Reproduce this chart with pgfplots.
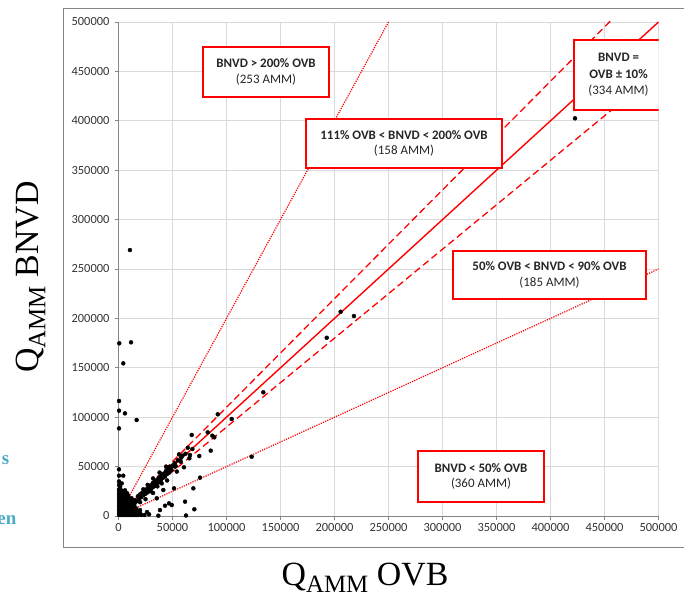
\documentclass[border=0pt]{standalone}
\usepackage{fontspec}
\setmainfont{Carlito}
\newfontfamily\tnr{Liberation Serif}
\usepackage{pgfplots}
\pgfplotsset{compat=1.18}
\definecolor{gridgray}{HTML}{D9D9D9}
\definecolor{axgray}{HTML}{868686}
\definecolor{exred}{HTML}{FF0000}
\definecolor{slideblue}{HTML}{4BACC6}

\pgfplotstableread{
x y
422700 402500
205700 206700
218000 202400
192800 180400
134100 125200
123300 60000
10600 269200
700 174800
11600 175800
4400 154500
500 116400
500 106600
6000 103900
16800 97200
500 88700
91900 102900
104800 98200
82600 84700
67800 82000
86900 81300
88700 79600
64100 69100
68400 67800
85400 66100
56000 62400
66200 61700
74800 60700
65600 58400
57600 55000
47700 49900
52300 49900
60600 49300
75500 38800
69300 28000
70200 6800
62500 500
51400 28000
46800 12800
43100 10400
49300 11100
36900 300
28300 1700
41500 26300
35400 17900
61600 14500
32000 23300
19900 6000
26400 4000
15300 2000
38400 6000
500 47200
4400 40800
500 40800
500 35000
500 31400
1500 29700
500 27000
3000 33000
15000 16000
17000 15000
18000 20000
19000 17500
20000 22000
21000 19000
22000 23500
23000 21000
24000 25000
25000 22500
26000 27000
27000 24000
28000 29000
29000 26500
30000 31000
31000 28500
32000 33500
33000 30000
34000 35000
35000 32500
36000 37000
37000 34000
38000 39500
39000 36000
40000 41000
41000 38500
42000 43000
43000 40000
44000 45500
45000 42500
46000 47000
47000 44000
48000 48500
49000 46500
50000 51000
52000 53500
53000 50500
55000 56500
58000 59000
44000 50000
38000 44000
32000 38000
27000 31500
23000 27000
30000 25000
36000 30000
40000 33000
20000 14000
25000 17000
45000 36000
54000 45000
62000 63000
59000 61000
500 1000
2000 1000
4000 1000
6000 1000
8000 1000
10000 1000
12000 1000
14000 1000
16000 1000
18000 1000
21000 1000
24000 1000
500 3000
1500 3000
3000 3000
5000 3000
7000 3000
9000 3000
11000 3000
13000 3000
15000 3000
17500 3000
20000 3000
500 5500
2500 5500
4500 5500
6500 5500
8500 5500
10500 5500
12500 5500
14500 5500
17000 5500
500 8000
1500 8000
3500 8000
5500 8000
7500 8000
9500 8000
11500 8000
13500 8000
16000 8000
500 10500
2500 10500
4500 10500
6500 10500
8500 10500
10500 10500
12500 10500
14500 10500
500 13000
2000 13000
4000 13000
6000 13000
8000 13000
10000 13000
12000 13000
15000 13000
500 15500
3000 15500
5000 15500
7000 15500
9500 15500
11500 15500
13500 15500
500 18000
2500 18000
4500 18000
7000 18000
9000 18000
12000 18000
500 20500
2000 20500
4500 20500
6500 20500
9000 20500
500 23000
3000 23000
5500 23000
8000 23000
500 26000
2500 26000
6000 26000
}\scatterdata

\begin{document}
\begin{tikzpicture}[
  box/.style={draw=exred, line width=1.2pt, fill=white, align=center,
    inner sep=0pt, text=black!85, font=\fontsize{13}{15.5}\selectfont},
]
\useasboundingbox (0,0) rectangle (684bp,597bp);
\draw[axgray, line width=0.8pt] (63bp,50bp) rectangle (700bp,589bp);
\begin{axis}[
  at={(118.5bp,81bp)}, anchor=south west,
  scale only axis, width=540bp, height=494bp,
  xmin=0, xmax=500000, ymin=0, ymax=500000,
  xtick={0,50000,100000,150000,200000,250000,300000,350000,400000,450000,500000},
  ytick={0,50000,100000,150000,200000,250000,300000,350000,400000,450000,500000},
  scaled ticks=false,
  /pgf/number format/fixed,
  /pgf/number format/precision=0,
  /pgf/number format/1000 sep={},
  /pgf/number format/assume math mode=true,
  grid=major, grid style={gridgray, line width=0.8pt},
  axis x line*=bottom, axis y line*=left,
  axis line style={axgray, line width=0.8pt},
  tick style={axgray, line width=0.8pt},
  tick align=outside, major tick length=4bp,
  ticklabel style={font=\fontsize{12.5}{14}\selectfont, text=black!80},
  yticklabel style={xshift=-1.5bp},
]
\addplot[only marks, mark=*, mark size=2pt, black] table {\scatterdata};
% reference lines
\addplot[exred, line width=1.4pt] coordinates {(0,0) (500000,500000)};
\addplot[exred, line width=1.3pt, dash pattern=on 7pt off 4pt] coordinates {(0,0) (500000,550000)};
\addplot[exred, line width=1.3pt, dash pattern=on 7pt off 4pt] coordinates {(0,0) (500000,450000)};
\addplot[exred, line width=1.2pt, dash pattern=on 1.2pt off 1.2pt] coordinates {(0,0) (500000,1000000)};
\addplot[exred, line width=1.2pt, dash pattern=on 1.2pt off 1.2pt] coordinates {(0,0) (500000,250000)};

\node[box, minimum width=126bp, minimum height=50bp] at (axis cs:136600,449300)
  {\textbf{BNVD > 200\% OVB}\\(253 AMM)};
\node[box, minimum width=196bp, minimum height=49bp] at (axis cs:264400,377000)
  {\textbf{111\% OVB < BNVD < 200\% OVB}\\(158 AMM)};
\node[box, minimum width=89bp, minimum height=70bp, font=\fontsize{13}{16.5}\selectfont] at (axis cs:463000,446300)
  {\textbf{BNVD =}\\\textbf{OVB ± 10\%}\\(334 AMM)};
\node[box, minimum width=193bp, minimum height=48bp] at (axis cs:399100,243900)
  {\textbf{50\% OVB < BNVD < 90\% OVB}\\(185 AMM)};
\node[box, minimum width=126bp, minimum height=51bp] at (axis cs:335700,40000)
  {\textbf{BNVD < 50\% OVB}\\(360 AMM)};
\end{axis}
% axis titles
\node[anchor=base, font=\tnr\fontsize{34}{40}\selectfont] at (365bp,12bp)
  {Q\raisebox{-0.22em}{\fontsize{25}{25}\selectfont AMM} OVB};
\node[anchor=base, rotate=90, font=\tnr\fontsize{34}{40}\selectfont] at (38bp,320bp)
  {Q\raisebox{-0.22em}{\fontsize{25}{25}\selectfont AMM} BNVD};
% fragments of slide text cut at the left edge
\node[anchor=base east, inner sep=0pt, text=slideblue, font=\tnr\bfseries\fontsize{19}{22}\selectfont] at (9.5bp,132bp) {s};
\node[anchor=base east, inner sep=0pt, text=slideblue, font=\tnr\bfseries\fontsize{19}{22}\selectfont] at (16.5bp,72bp) {en};
\end{tikzpicture}
\end{document}
